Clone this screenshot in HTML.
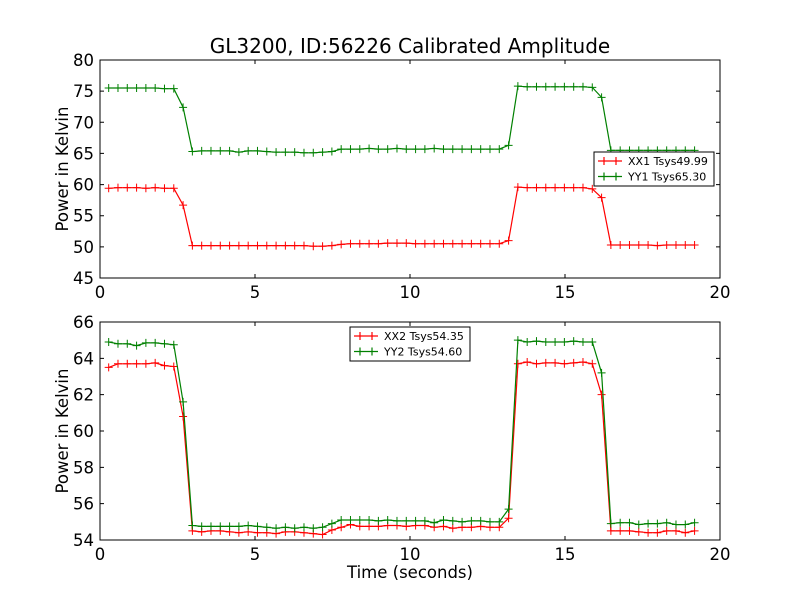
<!DOCTYPE html>
<html><head><meta charset="utf-8"><style>
body{margin:0;background:#fff}
svg{display:block;font-family:"DejaVu Sans","Liberation Sans",sans-serif}
</style></head><body>
<svg id="chart" width="800" height="600" xmlns="http://www.w3.org/2000/svg">
<rect width="800" height="600" fill="#fff"/>
<text x="410" y="53" font-size="20" text-anchor="middle">GL3200, ID:56226 Calibrated Amplitude</text>
</svg>
<script>
const times = [];
for (let i = 0; i < 64; i++) times.push(+(0.28 + 0.3 * i).toFixed(2));
const xx1 = [59.4,59.5,59.5,59.5,59.4,59.5,59.4,59.4,56.7,50.2,50.2,50.2,50.2,50.2,50.2,50.2,50.2,50.2,50.2,50.2,50.2,50.2,50.1,50.1,50.2,50.4,50.5,50.5,50.5,50.5,50.6,50.6,50.6,50.5,50.5,50.5,50.5,50.5,50.5,50.5,50.5,50.5,50.5,51.0,59.6,59.5,59.5,59.5,59.5,59.5,59.5,59.5,59.3,57.9,50.3,50.3,50.3,50.3,50.3,50.2,50.3,50.3,50.3,50.3];
const yy1 = [75.5,75.5,75.5,75.5,75.5,75.5,75.4,75.4,72.4,65.3,65.4,65.4,65.4,65.4,65.2,65.4,65.4,65.3,65.2,65.2,65.2,65.1,65.1,65.2,65.3,65.7,65.7,65.7,65.8,65.7,65.7,65.8,65.7,65.7,65.7,65.8,65.7,65.7,65.7,65.7,65.7,65.7,65.7,66.3,75.8,75.7,75.7,75.7,75.7,75.7,75.7,75.7,75.6,74.0,65.5,65.5,65.5,65.5,65.5,65.5,65.5,65.5,65.5,65.5];
const xx2 = [63.5,63.7,63.7,63.7,63.7,63.75,63.6,63.55,60.8,54.5,54.45,54.5,54.5,54.45,54.4,54.45,54.4,54.4,54.35,54.45,54.45,54.4,54.35,54.3,54.55,54.7,54.85,54.75,54.75,54.75,54.8,54.8,54.75,54.8,54.8,54.7,54.75,54.65,54.7,54.7,54.75,54.7,54.7,55.2,63.7,63.8,63.7,63.75,63.75,63.7,63.75,63.8,63.7,62.0,54.5,54.5,54.5,54.45,54.4,54.4,54.5,54.5,54.4,54.5];
const yy2 = [64.9,64.8,64.8,64.7,64.85,64.85,64.8,64.75,61.6,54.8,54.75,54.75,54.75,54.75,54.75,54.8,54.75,54.7,54.65,54.7,54.65,54.7,54.65,54.7,54.9,55.1,55.1,55.1,55.1,55.05,55.1,55.05,55.05,55.05,55.05,54.95,55.1,55.05,55.0,55.05,55.05,55.0,55.0,55.7,65.0,64.9,64.95,64.9,64.9,64.9,64.95,64.9,64.9,63.2,54.9,54.95,54.95,54.85,54.9,54.9,54.95,54.85,54.85,54.95];
const xTicks = [0,5,10,15,20];
const yTicksTop = [45,50,55,60,65,70,75,80];
const yTicksBot = [54,56,58,60,62,64,66];
const legendTop = ["XX1 Tsys49.99","YY1 Tsys65.30"];
const legendBot = ["XX2 Tsys54.35","YY2 Tsys54.60"];

const NS = "http://www.w3.org/2000/svg";
const svg = document.getElementById('chart');
function mk(tag, attrs, parent){const e=document.createElementNS(NS,tag);for(const k in attrs)e.setAttribute(k,attrs[k]);(parent||svg).appendChild(e);return e;}

function panel(name, top, bottom, ymin, ymax, yTicks, series, legend, lx, ly, xlabel){
  const L=100,R=720;
  const xs=v=>L+(v-0)/(20-0)*(R-L);
  const ys=v=>bottom-(v-ymin)/(ymax-ymin)*(bottom-top);
  const g=mk('g',{});
  
  
  series.forEach(s=>{
    const pts=s.data.map((v,i)=>xs(times[i]).toFixed(1)+','+ys(v).toFixed(1)).join(' ');
    const pl=mk('polyline',{points:pts,fill:'none',stroke:s.color,'stroke-width':1.2},g);
    
    
    let d='';
    s.data.forEach((v,i)=>{const x=xs(times[i]),y=ys(v);d+=`M${x-4},${y}h8M${x},${y-4}v8`;});
    const m=mk('path',{d:d,stroke:s.color,'stroke-width':1},g);
    
    
  });
  const frame=mk('rect',{x:L,y:top,width:R-L,height:bottom-top,fill:'none',stroke:'#000','stroke-width':1},g);
  
  
  xTicks.forEach(t=>{
    const x=xs(t);
    mk('path',{d:`M${x},${bottom}v-4M${x},${top}v4`,stroke:'#000'},g);
    const tx=mk('text',{x:x,y:bottom+20,'font-size':16.5,'text-anchor':'middle'},g);
    tx.textContent=t;
    
    
  });
  yTicks.forEach(t=>{
    const y=ys(t);
    mk('path',{d:`M${L},${y}h4M${R},${y}h-4`,stroke:'#000'},g);
    const tx=mk('text',{x:L-6,y:y+6,'font-size':16.5,'text-anchor':'end'},g);
    tx.textContent=t;
    
    
  });
  const yl=mk('text',{x:0,y:0,'font-size':16.5,'text-anchor':'middle',transform:`translate(68,${(top+bottom)/2}) rotate(-90)`},g);
  yl.textContent='Power in Kelvin';
  
  
  if(xlabel){
    const xl=mk('text',{x:410,y:578,'font-size':16.5,'text-anchor':'middle'},g);
    xl.textContent=xlabel;
    
    
  }
  const lg=mk('g',{},g);
  
  
  mk('rect',{x:lx,y:ly,width:120,height:34,fill:'#fff',stroke:'#000','stroke-width':1},lg);
  legend.forEach((lab,i)=>{
    const y=ly+9+i*15.5, c=series[i].color;
    mk('path',{d:`M${lx+4},${y}h24M${lx+10},${y-4}v8M${lx+22},${y-4}v8`,stroke:c,'stroke-width':1.2},lg);
    const t=mk('text',{x:lx+34,y:y+4,'font-size':11},lg);
    t.textContent=lab;
    
    
  });
}
panel('top-panel',60,278,45,80,yTicksTop,[{name:'xx1',data:xx1,color:'#ff0000'},{name:'yy1',data:yy1,color:'#008000'}],legendTop,594,152,null);
panel('bottom-panel',322,540,54,66,yTicksBot,[{name:'xx2',data:xx2,color:'#ff0000'},{name:'yy2',data:yy2,color:'#008000'}],legendBot,350,327,'Time (seconds)');
</script>
</body></html>
